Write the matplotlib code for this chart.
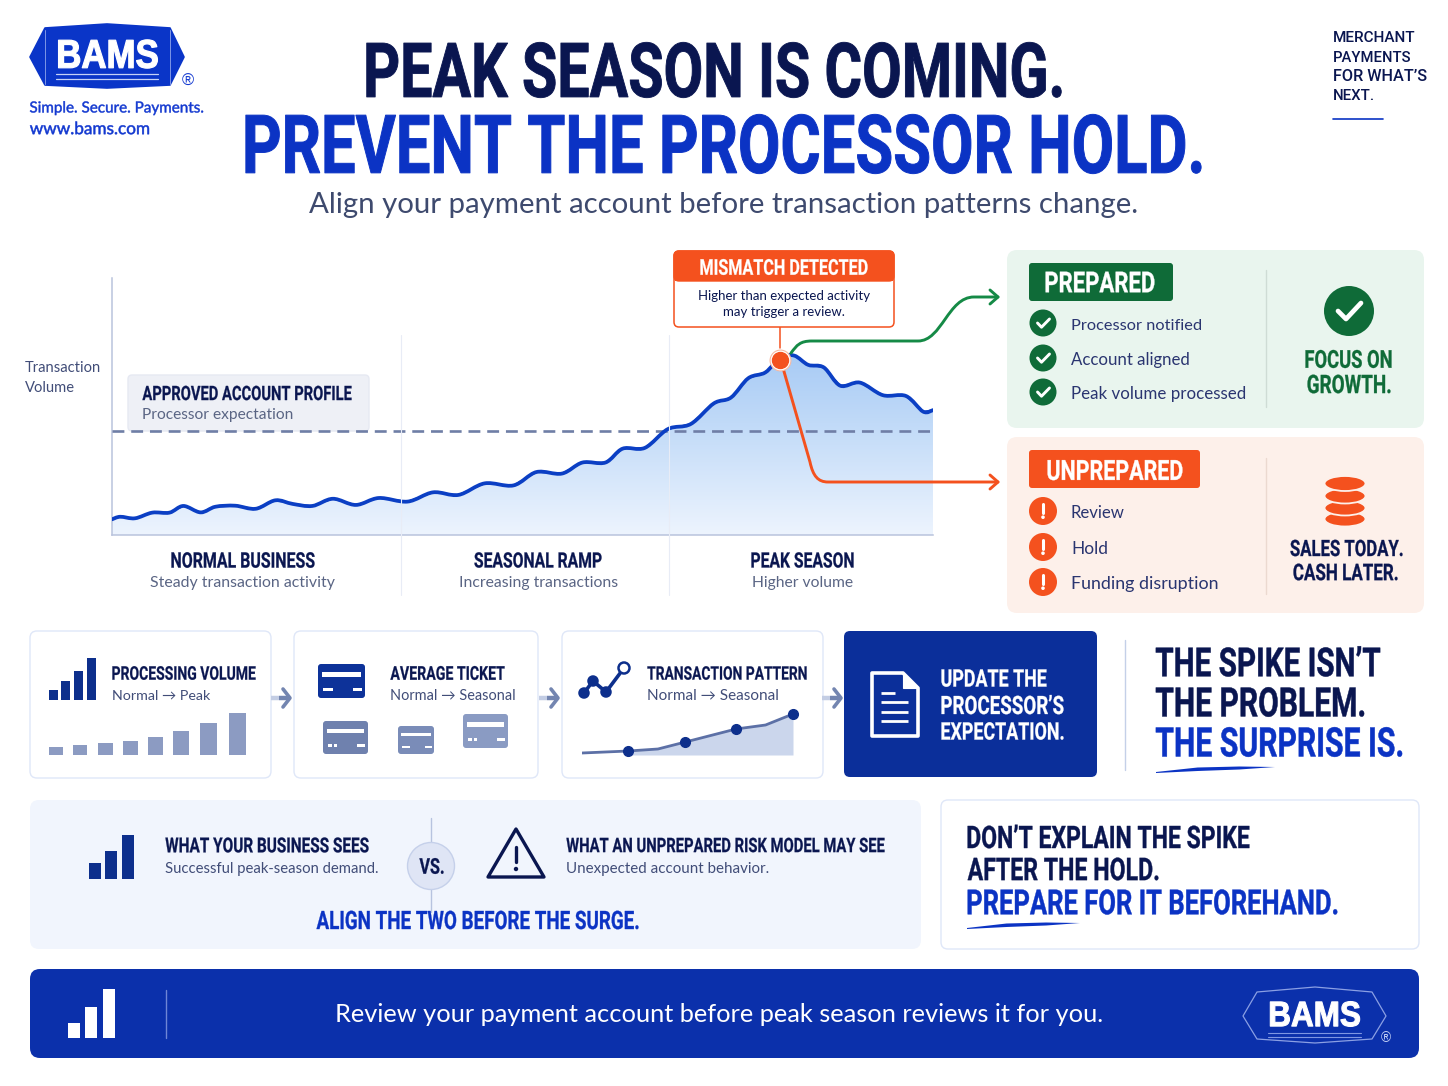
import numpy as np
import matplotlib
matplotlib.use("Agg")
import matplotlib.pyplot as plt
from matplotlib.patches import FancyBboxPatch, Circle, Polygon, Ellipse, PathPatch
from matplotlib.path import Path
from matplotlib.text import Text
from matplotlib.textpath import TextPath
from matplotlib.transforms import Affine2D, Bbox
from matplotlib.colors import LinearSegmentedColormap, to_rgba
from matplotlib import font_manager as fm

# ---------- data ----------
time_index = [0, 1.0, 2.8, 4.9, 7.0, 8.7, 10.8, 12.6, 15.0, 17.5, 19.9, 22, 24.4, 26.9, 29.7, 32.5, 36,
               39.1, 42.2, 45.4, 48.9, 51.7, 54.8, 57.3, 60.1, 62.2, 64.9, 67.7, 70.5, 73.3, 75.4, 77.5,
               79.6, 81.4, 83.1, 84.8, 86.7, 88.7, 91.1, 93.9, 96.7, 98.8, 100]
volume = [6.1, 7.1, 6.5, 8.7, 8.7, 11.3, 8.8, 11.0, 11.4, 10.2, 13.5, 12.1, 11.3, 14.1, 11.7, 14.4, 13.0,
          16.6, 15.6, 20.1, 19.3, 24.5, 23.9, 28.2, 28.2, 33.6, 33.9, 41.2, 43.2, 51.2, 53.5, 61.0,
          63.3, 69.1, 69.8, 66.2, 65.2, 58.1, 59.3, 54.4, 54.1, 48.0, 48.6]
expected_volume = 40.3
mismatch_time, mismatch_volume = 81.4, 68.0
mini_volume = [8, 10, 12, 14, 18, 24, 32, 42]
icon_bars = [10, 19, 29, 42]
mini_pattern_x = [0, 22, 36, 49, 73, 87, 100]
mini_pattern_y = [2, 4, 6, 13, 26, 30, 41]
mini_pattern_marked = [1, 3, 4, 6]
sees_bars = [16, 28, 44]
footer_bars = [15, 31, 49]
phases = [("NORMAL BUSINESS", "Steady transaction activity"),
          ("SEASONAL RAMP", "Increasing transactions"),
          ("PEAK SEASON", "Higher volume")]
prepared_items = ["Processor notified", "Account aligned", "Peak volume processed"]
unprepared_items = ["Review", "Hold", "Funding disruption"]

# ---------- colours ----------
NAVY = "#0a1650"; BLUE = "#0b33c4"; GREY = "#414d78"; GREEN = "#0f6b38"; ORANGE = "#f4511e"
LINE = "#0b3fc4"; SLATE = "#7385b0"; EDGE = "#dfe7f8"; INK = "#2a3570"

W, H = 1448, 1086
DPI = 100
fig = plt.figure(figsize=(W / DPI, H / DPI), dpi=DPI, facecolor="white")
renderer = fig.canvas.get_renderer()
avail = {f.name for f in fm.fontManager.ttflist}
COND = ["Liberation Sans Narrow"] if "Liberation Sans Narrow" in avail else ["Roboto", "DejaVu Sans"]
BODY = ["Lato", "DejaVu Sans"]
LOGO = ["Liberation Sans", "DejaVu Sans"]


class TallText(Text):
    """Real text whose glyphs are drawn stretched vertically about their cap-height centre."""
    sy = 1.35
    stroke = 0.015

    def _geom(self):
        fp = self.get_fontproperties()
        px = fp.get_size_in_points() * DPI / 72
        tp = TextPath((0, 0), self.get_text(), size=px, prop=fp)
        cap = TextPath((0, 0), "H", size=px, prop=fp).get_extents().height
        bb = tp.get_extents()
        x, y = self.get_transform().transform(self.get_position())
        tr = Affine2D().translate(-bb.x0, -cap / 2).scale(1, self.sy).translate(x, y)
        return tp, tr

    def draw(self, rend):
        if not self.get_visible():
            return
        tp, tr = self._geom()
        gc = rend.new_gc()
        gc.set_foreground(self.get_color())
        gc.set_linewidth(self.stroke * self.get_fontsize())
        gc.set_joinstyle("round")
        rend.draw_path(gc, tp, tr, rgbFace=to_rgba(self.get_color()))
        gc.restore()
        self.stale = False

    def get_window_extent(self, renderer=None, dpi=None):
        tp, tr = self._geom()
        return Bbox(tr.transform(tp.get_extents().get_points()))


def layer(z):
    a = fig.add_axes([0, 0, 1, 1], zorder=z)
    a.set_xlim(0, W); a.set_ylim(H, 0); a.axis("off"); a.patch.set_alpha(0)
    return a


under = layer(0)
top = layer(5)


def T(x0, x1, y, s, color=NAVY, family=BODY, weight="normal", ax=None, z=10):
    """Text fitted to span x0..x1 in pixels, vertically centred on y."""
    ax = ax or top
    t = ax.text(x0, y, s, color=color, family=family, weight=weight, fontsize=20,
                ha="left", va="center_baseline", zorder=z)
    w = t.get_window_extent(renderer).width
    t.set_fontsize(20 * (x1 - x0) / w)
    return t


def Tall(x0, x1, y, s, color=NAVY, family=COND, weight="bold", sy=1.35, stroke=0.015):
    """Stretched heading: ink spans x0..x1 px; y is the centre of the capitals."""
    t = TallText(x0, y, s, color=color, family=family, weight=weight, fontsize=20, zorder=10,
                 transform=top.transData, clip_on=False)
    t.sy = sy; t.stroke = stroke
    top.add_artist(t)
    tp = TextPath((0, 0), s, size=100, prop=t.get_fontproperties())
    w = tp.get_extents().width
    pts = (100 * (x1 - x0) / w) * 72 / DPI
    pad = 2 * stroke * pts * DPI / 72          # room for the stroke on each side
    pts = (100 * (x1 - x0 - 2 * pad) / w) * 72 / DPI
    t.set_fontsize(pts)
    t.set_x(x0 + pad)
    return t


H1 = Tall


def box(x0, y0, x1, y1, r=8, fc="white", ec="none", lw=1, ax=None, z=1):
    p = FancyBboxPatch((x0, y0), x1 - x0, y1 - y0, boxstyle=f"round,pad=0,rounding_size={r}",
                       fc=fc, ec=ec, lw=lw, zorder=z)
    (ax or top).add_patch(p)
    return p


def rect(x0, y0, x1, y1, fc, z=3):
    top.fill([x0, x1, x1, x0], [y0, y0, y1, y1], fc=fc, lw=0, zorder=z)


def pl(xs, ys, c, lw=1.0, z=4, **k):
    top.plot(xs, ys, color=c, lw=lw, zorder=z, solid_capstyle=k.pop("cap", "round"),
             solid_joinstyle="round", **k)


def curve(verts, codes, c, lw, z=7):
    top.add_patch(PathPatch(Path(verts, codes), fc="none", ec=c, lw=lw, zorder=z, capstyle="round", joinstyle="round"))


def swoosh(x0, x1, y, c=BLUE):
    d = x1 - x0
    xs = np.array([x0, x0 + d * .35, x0 + d * .7, x1, x0 + d * .7, x0 + d * .35, x0])
    ys = np.array([y + 2, y - 2.5, y - 3.5, y - 3, y - .5, y + 1, y + 3])
    top.fill(xs, ys, fc=c, lw=0, zorder=6)


def inset(x0, y0, x1, y1, xlim, ylim, z=6):
    a = fig.add_axes([x0 / W, 1 - y1 / H, (x1 - x0) / W, (y1 - y0) / H], zorder=z)
    a.set_xlim(*xlim); a.set_ylim(*ylim); a.axis("off"); a.patch.set_alpha(0)
    return a


def smooth_path(xs, ys, close_to=None):
    """Catmull-Rom curve through the given points."""
    p = np.column_stack([xs, ys]).astype(float)
    n = len(p)
    v = [tuple(p[0])]; c = [Path.MOVETO]
    for i in range(n - 1):
        p0 = p[max(i - 1, 0)]; p1 = p[i]; p2 = p[i + 1]; p3 = p[min(i + 2, n - 1)]
        v += [tuple(p1 + (p2 - p0) / 6), tuple(p2 - (p3 - p1) / 6), tuple(p2)]
        c += [Path.CURVE4] * 3
    if close_to is not None:
        v += [(xs[-1], close_to), (xs[0], close_to), (xs[0], ys[0])]
        c += [Path.LINETO, Path.LINETO, Path.CLOSEPOLY]
    return Path(v, c)


# ---------- header ----------
def hexlogo(pts, fc, ec, lw=1.2):
    top.add_patch(Polygon(pts, closed=True, fc=fc, ec=ec, lw=lw, joinstyle="round", zorder=2))


hexlogo([(30, 57), (45, 28), (107, 24), (170, 28), (184, 57), (170, 85), (107, 88), (45, 85)], "#0a35c8", "#0a35c8")
pl([45, 45], [30, 84], "#7d96e6", .7); pl([170, 170], [30, 84], "#7d96e6", .7)
Tall(56, 160, 54, "BAMS", "white", LOGO, "bold", sy=1.15, stroke=0.035)
pl([56, 158], [74, 74], "#c6d2f6", .9); pl([56, 158], [79, 79], "#c6d2f6", .9)
T(182, 194, 80, "®", "#1238d0", LOGO)
Tall(29, 204, 107, "Simple. Secure. Payments.", "#1238d0", BODY, "normal", sy=1.0, stroke=0.03)
Tall(29, 150, 128, "www.bams.com", "#1238d0", BODY, "normal", sy=1.0, stroke=0.03)
H1(365, 1063, 70, "PEAK SEASON IS COMING.", sy=1.32)
H1(244, 1203, 144, "PREVENT THE PROCESSOR HOLD.", BLUE, sy=1.32)
T(309, 1138, 203, "Align your payment account before transaction patterns change.", "#3e4a6e")
for y, x1, s in [(37, 1415, "MERCHANT"), (56, 1411, "PAYMENTS"), (75, 1427, "FOR WHAT’S"), (94, 1375, "NEXT.")]:
    T(1333, x1, y, s, NAVY, ["Roboto", "DejaVu Sans"], "medium")
pl([1333, 1383], [119, 119], BLUE, 1.2)

# ---------- main chart ----------
box(128, 375, 369, 431, r=4, fc="#eef0f6", ec="#e6e9f2", ax=under)
T(25, 101, 367, "Transaction", GREY); T(25, 75, 386, "Volume", GREY)
H1(142, 352, 393, "APPROVED ACCOUNT PROFILE"); T(142, 294, 414, "Processor expectation", "#5a6584")

chart = fig.add_axes([112 / W, 1 - 535 / H, (933 - 112) / W, (535 - 278) / H], zorder=2)
chart.set_xlim(0, 100); chart.set_ylim(0, 100); chart.patch.set_alpha(0)
for s in ("top", "right"):
    chart.spines[s].set_visible(False)
for s in ("left", "bottom"):
    chart.spines[s].set_color("#b9c3dd"); chart.spines[s].set_linewidth(1.1)
chart.set_xticks([]); chart.set_yticks([])
clip = PathPatch(smooth_path(time_index, volume, close_to=0), fc="none", ec="none", transform=chart.transData)
chart.add_patch(clip)
cmap = LinearSegmentedColormap.from_list("g", ["#edf4fe", "#c9dff9", "#a8cbf5"])
im = chart.imshow(np.linspace(1, 0, 256).reshape(-1, 1), extent=(0, 100, 0, 70), aspect="auto",
                  cmap=cmap, zorder=1, origin="upper")
im.set_clip_path(clip)
chart.set_xlim(0, 100); chart.set_ylim(0, 100)
chart.axhline(expected_volume, color="#6f7ea6", lw=1.9, dashes=(4.5, 2.6), zorder=3)
chart.plot(time_index, volume, color=LINE, lw=1.2, zorder=4, solid_joinstyle="round", solid_capstyle="round")
chart.add_patch(PathPatch(smooth_path(time_index, volume), fc="none", ec=LINE, lw=2.7, zorder=4,
                          capstyle="round", joinstyle="round", transform=chart.transData))
for x in (401, 669):
    pl([x, x], [335, 595], "#e8ecf6", .8, z=1)
for (a, b), x0, x1, x2, x3 in zip(phases, (171, 474, 751), (315, 602, 854), (150, 459, 752), (335, 618, 853)):
    H1(x0, x1, 560, a); T(x2, x3, 582, b, "#5a6584")

# callout
box(674, 251, 894, 327, r=5, fc="white", ec=ORANGE, lw=1.1, z=5)
box(674, 251, 894, 281, r=5, fc=ORANGE, ec=ORANGE, lw=1, z=6)
rect(675, 272, 893, 281, ORANGE, z=6)
H1(700, 868, 267, "MISMATCH DETECTED", "white")
T(698, 870, 295, "Higher than expected activity"); T(723, 845, 311, "may trigger a review.")
pl([780, 780], [327, 348], ORANGE, 1.1)

# connectors
M, L, C4 = Path.MOVETO, Path.LINETO, Path.CURVE4
curve([(791, 353), (797, 345), (800, 341), (812, 341), (918, 341), (942, 341), (948, 297), (974, 297), (998, 297)],
      [M, C4, C4, C4, L, C4, C4, C4, L], "#158a46", 2.1)
pl([990, 998, 990], [290, 297, 304], "#158a46", 2.1, z=7)
curve([(783, 368), (810, 462), (813, 476), (818, 482), (828, 482), (998, 482)], [M, L, C4, C4, C4, L], ORANGE, 2.1)
pl([990, 998, 990], [475, 482, 489], ORANGE, 2.1, z=7)
peak = inset(112, 278, 933, 535, (0, 100), (0, 100), z=8)
peak.plot([mismatch_time], [mismatch_volume], "o", ms=15, mfc="white", mec="#f7b9a2", mew=.8, zorder=8, clip_on=False)
peak.plot([mismatch_time], [mismatch_volume], "o", ms=11.5, mfc=ORANGE, mec=ORANGE, zorder=9, clip_on=False)

# ---------- prepared / unprepared ----------
box(1007, 250, 1424, 428, r=10, fc="#e9f5ee")
box(1029, 263, 1173, 301, r=3, fc=GREEN, z=2)
H1(1045, 1155, 282, "PREPARED", "white", sy=1.3)
for y, s, x1 in zip((323, 358, 392), prepared_items, (1202, 1190, 1246)):
    top.add_patch(Circle((1043, y), 13.5, fc=GREEN, ec="none", zorder=3))
    pl([1037.5, 1041.5, 1049.5], [y, y + 4.2, y - 4], "white", 2.1)
    T(1071, x1, y + 1, s, INK)
pl([1266, 1266], [270, 407], "#cfdcd5", 1)
top.add_patch(Circle((1349, 311), 25, fc=GREEN, ec="none", zorder=3))
pl([1338, 1346, 1361], [311, 319, 303], "white", 3.4)
H1(1305, 1392, 359, "FOCUS ON", GREEN); H1(1307, 1391, 384, "GROWTH.", GREEN)

box(1007, 437, 1424, 613, r=10, fc="#fdf0ea")
box(1029, 450, 1200, 488, r=3, fc=ORANGE, z=2)
H1(1047, 1183, 470, "UNPREPARED", "white", sy=1.3)
for y, s, x1 in zip((511, 547, 582), unprepared_items, (1125, 1108, 1219)):
    top.add_patch(Circle((1043, y), 14, fc=ORANGE, ec="none", zorder=3))
    pl([1043, 1043], [y - 7, y + 1.5], "white", 2.2)
    top.add_patch(Circle((1043, y + 6.2), 1.8, fc="white", ec="none", zorder=4))
    T(1071, x1, y + 1, s, INK)
pl([1266, 1266], [458, 594], "#ecd9d0", 1)
for y in (519, 508, 496, 483.5):
    top.add_patch(Ellipse((1345, y), 41, 15, fc=ORANGE, ec="#fdf0ea", lw=1.3, zorder=3))
H1(1290, 1403, 548, "SALES TODAY.", NAVY); H1(1293, 1398, 572, "CASH LATER.", NAVY)

# ---------- process row ----------
for x0, x1 in ((30, 271), (294, 538), (562, 823)):
    box(x0, 631, x1, 778, r=7, fc="white", ec=EDGE, lw=1.0)
for x in (271, 539, 822):
    pl([x, x + 8], [698, 698], "#c3cde4", 3.2, cap="butt")
    pl([x + 8, x + 18], [698, 698], SLATE, 3.2, cap="butt")
    pl([x + 12, x + 19, x + 12], [689, 698, 707], SLATE, 2.6)

a = inset(48, 650, 98, 700, (47.5, 97.5), (0, 50))
a.bar([53, 65, 78, 91], icon_bars, width=8.5, color="#0d2f8c")
H1(112, 256, 673, "PROCESSING VOLUME"); T(112, 210, 695, "Normal → Peak", GREY)
a = inset(40, 700, 250, 755, (40, 250), (0, 55))
a.bar([56, 80, 105, 130, 155, 181, 208, 237], mini_volume, width=[14, 14, 15, 15, 15, 16, 17, 17], color="#8c9bc2")


def card(x0, y0, x1, y1, fc, stripe="white", double=False):
    w = x1 - x0; h = y1 - y0
    box(x0, y0, x1, y1, r=3, fc=fc, z=3)
    rect(x0 + w * .08, y0 + h * .24, x1 - w * .08, y0 + h * .37, stripe, z=4)
    rect(x1 - w * .25, y0 + h * .70, x1 - w * .06, y0 + h * .80, stripe, z=4)
    if double:
        rect(x0 + w * .1, y0 + h * .70, x0 + w * .2, y0 + h * .80, stripe, z=4)
        rect(x0 + w * .24, y0 + h * .70, x0 + w * .32, y0 + h * .80, stripe, z=4)
    else:
        rect(x0 + w * .1, y0 + h * .70, x0 + w * .32, y0 + h * .80, stripe, z=4)


card(318, 664, 365, 698, "#0d3299")
card(323, 721, 368, 754, "#6f81ae", double=True)
card(398, 726, 434, 754, "#7a8cb8")
card(463, 714, 508, 748, "#8a9bc3", double=True)
H1(390, 505, 673, "AVERAGE TICKET"); T(390, 515, 695, "Normal → Seasonal", GREY)

icon_xs, icon_ys = [584, 593, 606, 624], [693, 681, 692, 668]
pl(icon_xs, icon_ys, "#0d2f8c", 2.6)
for xx, yy in zip(icon_xs, icon_ys):
    last = xx == icon_xs[-1]
    top.add_patch(Circle((xx, yy), 5.5 if last else 4.5, fc="white" if last else "#0d2f8c", ec="#0d2f8c", lw=1.8, zorder=5))
H1(647, 807, 673, "TRANSACTION PATTERN"); T(647, 778, 695, "Normal → Seasonal", GREY)
a = inset(582, 700, 793, 755, (0, 100), (0, 55))
a.fill_between(mini_pattern_x[1:], mini_pattern_y[1:], 0, color="#cbd6ec", lw=0)
a.plot(mini_pattern_x, mini_pattern_y, color="#5c70a6", lw=2, solid_capstyle="round")
a.plot([mini_pattern_x[i] for i in mini_pattern_marked], [mini_pattern_y[i] for i in mini_pattern_marked],
       "o", ms=7, color="#0d2f8c", clip_on=False)

box(844, 631, 1097, 777, r=6, fc="#0b2f9a")
top.add_patch(Polygon([(872, 673), (903, 673), (918, 688), (918, 736), (872, 736)], closed=True, fc="none",
                      ec="white", lw=2.6, joinstyle="round", zorder=4))
top.add_patch(Polygon([(903, 673), (903, 688), (918, 688)], closed=True, fc="white", ec="white", lw=.8, zorder=4))
pl([881, 895], [693, 693], "white", 2, cap="butt")
for y in (702, 712, 721):
    pl([881, 908], [y, y], "white", 2, cap="butt")
H1(941, 1047, 678, "UPDATE THE", "white"); H1(941, 1064, 705, "PROCESSOR’S", "white")
H1(941, 1064, 731, "EXPECTATION.", "white")
pl([1125, 1125], [640, 770], "#c4d0e8", 1)
H1(1155, 1381, 662, "THE SPIKE ISN’T"); H1(1155, 1365, 702, "THE PROBLEM.")
H1(1155, 1403, 742, "THE SURPRISE IS.", BLUE)
swoosh(1156, 1275, 770)

# ---------- comparison row ----------
box(30, 800, 921, 949, r=9, fc="#f1f5fd")
a = inset(88, 835, 135, 879, (88, 135), (0, 44))
a.bar([94.5, 111, 128], sees_bars, width=12, color="#0d2f8c")
H1(165, 369, 845, "WHAT YOUR BUSINESS SEES"); T(165, 379, 867, "Successful peak-season demand.", GREY)
pl([431, 431], [818, 912], "#b7c3df", 1)
top.add_patch(Circle((431, 866), 23.5, fc="#dfe5f5", ec="#c5d0ea", lw=1, zorder=5))
H1(419, 444, 866, "VS.")
top.add_patch(Polygon([(516, 829), (544, 877), (488, 877)], closed=True, fc="none", ec=NAVY, lw=2.4,
                      joinstyle="round", zorder=4))
pl([516, 516], [847, 862], NAVY, 2.4)
top.add_patch(Circle((516, 869), 2.2, fc=NAVY, ec="none", zorder=5))
H1(566, 885, 845, "WHAT AN UNPREPARED RISK MODEL MAY SEE"); T(566, 770, 867, "Unexpected account behavior.", GREY)
H1(316, 639, 920, "ALIGN THE TWO BEFORE THE SURGE.", BLUE)

box(941, 800, 1419, 949, r=7, fc="white", ec=EDGE, lw=1.0)
H1(967, 1250, 837, "DON’T EXPLAIN THE SPIKE"); H1(967, 1159, 869, "AFTER THE HOLD.")
H1(967, 1338, 902, "PREPARE FOR IT BEFOREHAND.", BLUE)
swoosh(967, 1080, 926)

# ---------- footer ----------
box(30, 969, 1419, 1058, r=10, fc="#0b30ab")
a = inset(67, 989, 116, 1038, (67, 116), (0, 49))
a.bar([74, 91.5, 109], footer_bars, width=12, color="white")
pl([166, 166], [990, 1038], "#6f86d6", 1)
T(335, 1107, 1013, "Review your payment account before peak season reviews it for you.", "white")
hexlogo([(1243, 1016), (1257, 992), (1315, 987), (1372, 992), (1386, 1016), (1372, 1039),
         (1315, 1043), (1257, 1039)], "none", "#8ba0e4", lw=.9)
Tall(1268, 1362, 1014, "BAMS", "white", LOGO, "bold", sy=1.12, stroke=0.035)
pl([1268, 1361], [1033, 1033], "#7f96e2", .8); pl([1268, 1361], [1037, 1037], "#7f96e2", .8)
T(1381, 1391, 1037, "®", "#c6d2f6", LOGO)

fig.savefig("out.png", dpi=DPI, facecolor="white")
